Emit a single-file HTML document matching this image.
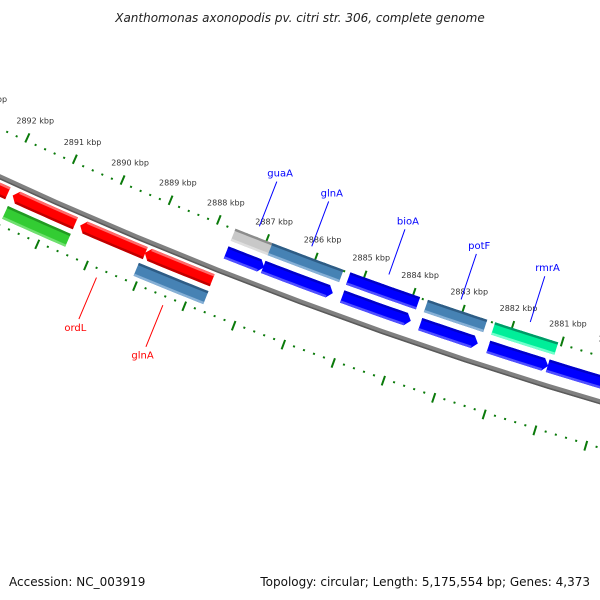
<!DOCTYPE html>
<html><head><meta charset="utf-8">
<style>
html,body{margin:0;padding:0;background:#fff;}
svg{display:block;font-family:"DejaVu Sans","Liberation Sans",sans-serif;}
</style></head>
<body>
<svg id="map" width="600" height="600" viewBox="0 0 600 600" xmlns="http://www.w3.org/2000/svg">
<rect x="0" y="0" width="600" height="600" fill="#fff"/>
<text x="300" y="22" text-anchor="middle" font-size="12" font-style="italic" fill="#222">Xanthomonas axonopodis pv. citri str. 306, complete genome</text>
<g id="rulers"></g>
<g id="backbone"></g>
<g id="features"></g>
<g id="labels"></g>
<text x="9" y="586" font-size="12" fill="#111">Accession: NC_003919</text>
<text x="590" y="586" text-anchor="end" font-size="12" fill="#111">Topology: circular; Length: 5,175,554 bp; Genes: 4,373</text>
</svg>
<script>
// ---- data (kbp) ----
const tickKbp = [2878,2879,2880,2881,2882,2883,2884,2885,2886,2887,2888,2889,2890,2891,2892,2893,2894];
const tickLabels = ["2878 kbp","2879 kbp","2880 kbp","2881 kbp","2882 kbp","2883 kbp","2884 kbp","2885 kbp","2886 kbp","2887 kbp","2888 kbp","2889 kbp","2890 kbp","2891 kbp","2892 kbp","2893 kbp","2894 kbp"];
const featStart = [2893.5, 2891.8, 2890.40, 2889.07, 2891.8, 2889.1, 2887.64, 2886.88, 2885.27, 2883.69, 2882.32, 2881.13, 2887.64, 2886.88, 2885.28, 2883.70, 2882.34];
const featEnd   = [2891.9, 2890.5, 2889.06, 2887.69, 2890.5, 2887.68, 2886.86, 2885.46, 2883.88, 2882.53, 2881.12, 2879.2, 2886.83, 2885.42, 2883.86, 2882.50, 2881.07];
const featRow   = ["out1","out1","out1","out1","out2","out2","in1","in1","in1","in1","in1","in1","in2","in2","in2","in2","in2"];
const featType  = ["rev","rev","rev","rev","cogG","cogE","fwd","fwd","fwd","fwd","fwd","fwd","cogNone","cogE","cogH","cogE","cogK"];
const labelText = ["ordL","glnA","guaA","glnA","bioA","potF","rmrA"];
const labelKbp  = [2889.73, 2888.38, 2887.23, 2886.15, 2884.57, 2883.10, 2881.70];
const labelSide = ["out","out","in","in","in","in","in"];

// ---- geometry ----
const CX = 1875.4, CY = -3913.5;
function ang(k){ return (111.17 + (k-2887)*0.67) * Math.PI/180; }
function pt(k,r){ const a=ang(k); return [CX + r*Math.cos(a), CY + r*Math.sin(a)]; }
const rows = { out1:[4505,4518], out2:[4523,4537], in1:[4474,4487], in2:[4455,4468] };
const palette = {
  rev:["#ff0000","#ff6a6a","#c00000"],
  fwd:["#0000ff","#0000c8","#5050ff"],
  cogG:["#33cc33","#229922","#70e070"],
  cogE:["#4682b4","#2e5c85","#86b0d6"],
  cogH:["#0000ff","#0000c8","#5050ff"],
  cogK:["#00ee99","#009966","#70ffcc"],
  cogNone:["#c8c8c8","#8c8c8c","#dedede"]
};
const NS="http://www.w3.org/2000/svg";
function mk(tag, parent, attrs){ const e=document.createElementNS(NS,tag); for(const k in attrs) e.setAttribute(k,attrs[k]); parent.appendChild(e); return e; }
function arcPts(k1,k2,r){ const n=12, out=[]; for(let i=0;i<=n;i++){ out.push(pt(k1+(k2-k1)*i/n,r)); } return out; }
function f(p){ return p[0].toFixed(2)+","+p[1].toFixed(2); }

// rulers
const rul = document.getElementById('rulers');
[[4456,4448,4458],[4544,4541,4551]].forEach((cfg,ri)=>{
  for(let k=2878;k<=2894.001;k+=0.2){
    const kk=Math.round(k*10)/10;
    const major = Math.abs(kk-Math.round(kk))<1e-6;
    const a = major?pt(kk,cfg[1]):pt(kk,cfg[0]-1);
    const b = major?pt(kk,cfg[2]):pt(kk,cfg[0]+1);
    const l = mk('line',rul,{x1:a[0],y1:a[1],x2:b[0],y2:b[1],stroke:"#0a7a0a","stroke-width":2});
    
    
  }
});
tickKbp.forEach((k,i)=>{
  const p = pt(k,4434);
  const t = mk('text',rul,{x:p[0],y:p[1]+3,"text-anchor":"middle","font-size":8,fill:"#333"});
  t.textContent = tickLabels[i];
  
  
});

// backbone
const bb = document.getElementById('backbone');
const bpts = arcPts(2896,2876,4500);
const bl = mk('polyline',bb,{points:bpts.map(f).join(" "),fill:"none",stroke:"#808080","stroke-width":5});


const bl2 = mk('polyline',bb,{points:arcPts(2896,2876,4501.8).map(f).join(" "),fill:"none",stroke:"#5a5a5a","stroke-width":1.5});



// features
const fg = document.getElementById('features');
const H = 0.1;
featStart.forEach((s,i)=>{
  const e = featEnd[i], [r1,r2] = rows[featRow[i]], rm=(r1+r2)/2;
  const type = featType[i], col = palette[type];
  let pts=[], b1=s, b2=e;
  if(type==="fwd"){
    b2 = e+H;
    pts = arcPts(s,b2,r1).concat([pt(e,rm)]).concat(arcPts(b2,s,r2));
  } else if(type==="rev"){
    b1 = s-H;
    pts = [pt(s,rm)].concat(arcPts(b1,e,r1)).concat(arcPts(e,b1,r2));
  } else {
    pts = arcPts(s,e,r1).concat(arcPts(e,s,r2));
  }
  const g = mk('g',fg,{});
  
  
  mk('polygon',g,{points:pts.map(f).join(" "),fill:col[0]});
  mk('polyline',g,{points:arcPts(b1,b2,r1+1.2).map(f).join(" "),fill:"none",stroke:col[1],"stroke-width":2.4});
  mk('polyline',g,{points:arcPts(b1,b2,r2-1.2).map(f).join(" "),fill:"none",stroke:col[2],"stroke-width":2.4});
});

// labels
const lg = document.getElementById('labels');
labelText.forEach((txt,i)=>{
  const k=labelKbp[i], out = labelSide[i]==="out";
  const color = out?"#ff0000":"#0000ff";
  const a = out?pt(k,4553):pt(k,4444);
  const b = out?pt(k,4598):pt(k,4396);
  const ln = mk('line',lg,{x1:a[0],y1:a[1],x2:b[0],y2:b[1],stroke:color,"stroke-width":1});
  
  
  const p = out?pt(k,4607):pt(k,4387);
  const t = mk('text',lg,{x:p[0],y:p[1]+3.5,"text-anchor":"middle","font-size":10,fill:color});
  t.textContent = txt;
  
  
});
</script>
</body></html>
